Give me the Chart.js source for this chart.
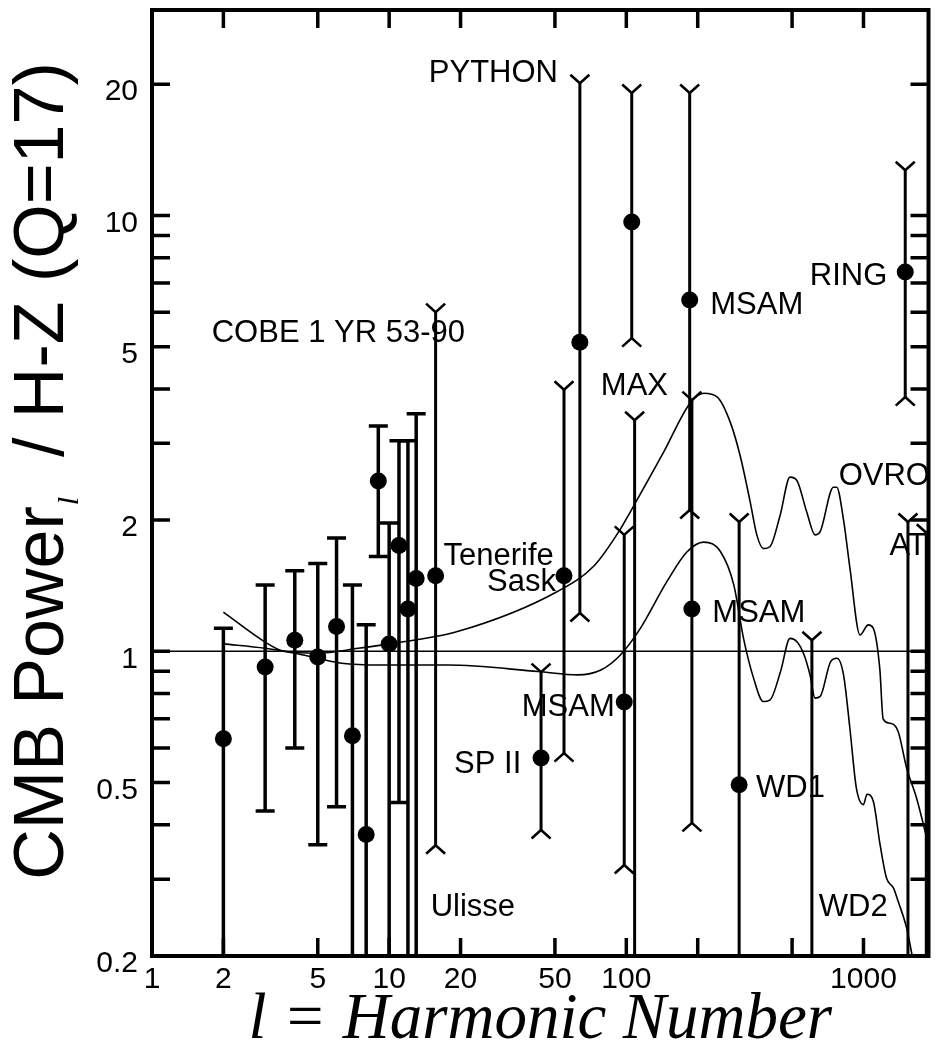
<!DOCTYPE html>
<html><head><meta charset="utf-8">
<script src="https://cdn.jsdelivr.net/npm/chart.js@4.4.1/dist/chart.umd.min.js"></script>
<style>html,body{margin:0;padding:0;background:#fff;}#wrap{width:937px;height:1060px;}</style>
</head><body><div id="wrap"><canvas id="c" width="937" height="1060"></canvas></div>
<script>
// ---------- axis ticks ----------
const xTickLabels = [1, 2, 5, 10, 20, 50, 100, 1000];
const xTickMarks  = [2, 5, 10, 20, 50, 100, 200, 500, 1000];
const yTickLabels = [0.2, 0.5, 1, 2, 5, 10, 20];
const yTickMarks  = [0.3, 0.4, 0.5, 0.6, 0.7, 0.8, 0.9, 1, 2, 3, 4, 5, 6, 7, 8, 9, 10, 20];
const xMin = 1, xMax = 1880, yMin = 0.2, yMax = 29.6;

// ---------- COBE band powers (flat caps); null low = runs below the axis ----------
const cobeL  = [2, 3, 4, 5, 6, 7, 8, 9, 10, 11, 12, 13];
const cobeV  = [0.63, 0.92, 1.06, 0.97, 1.14, 0.64, 0.38, 2.46, 1.04, 1.75, 1.25, 1.47];
const cobeLo = [null, 0.43, 0.60, 0.36, 0.44, null, null, 1.65, null, 0.45, null, null];
const cobeHi = [1.13, 1.42, 1.53, 1.59, 1.82, 1.42, 1.15, 3.29, 1.97, 3.04, 3.04, 3.51];

// ---------- other experiments (Y-shaped caps); null = no point / no lower cap ----------
const expName = ['Tenerife', 'SP II', 'Sask', 'PYTHON', 'MSAM', 'MAX', 'MAX', 'MSAM', 'MSAM', 'WD1', 'WD2', 'RING', 'OVRO', 'AT'];
const expL  = [15.7, 43.7, 54.6, 63.7, 98, 105.4, 108.4, 185, 189, 299, 606, 1500, 1540, 1840];
const expV  = [1.49, 0.569, 1.49, 5.12, 0.765, 9.66, null, 6.40, 1.25, 0.494, null, 7.42, null, null];
const expLo = [0.359, 0.389, 0.584, 1.224, 0.3235, 5.23, null, 2.11, 0.404, null, null, 3.83, null, null];
const expHi = [6.0, 0.896, 3.98, 20.1, 1.85, 19.1, 3.39, 19.1, 3.77, 1.98, 1.06, 12.7, 1.98, 1.87];

// ---------- theory curves ----------
const curveAL = [2, 3, 3.6, 5, 7.4, 10, 19.4, 51, 73, 94, 104, 144, 185, 212, 242, 274, 302, 333, 355, 379, 404, 445, 490, 523, 576, 625, 656, 747, 771, 823, 877, 967, 1048, 1099, 1172, 1210, 1291, 1400, 1520, 1675, 1906];
const curveAV = [1.23, 1.05, 1.0, 0.99, 1.016, 1.04, 1.11, 1.37, 1.57, 1.90, 2.09, 2.87, 3.70, 3.91, 3.83, 3.36, 2.81, 2.20, 1.85, 1.72, 1.74, 2.05, 2.51, 2.47, 2.09, 1.85, 1.88, 2.38, 2.38, 2.01, 1.55, 1.09, 1.15, 1.13, 0.91, 0.70, 0.684, 0.655, 0.54, 0.46, 0.348];
const curveBL = [2, 3, 4, 5, 6.3, 9.2, 17.7, 42.5, 62.4, 78.1, 94.4, 114.6, 148, 180, 212, 250, 284, 312, 344, 378, 404, 447, 490, 524, 562, 595, 625, 657, 727, 773, 824, 876, 933, 1000, 1035, 1100, 1174, 1250, 1340, 1400, 1520, 1600];
const curveBV = [1.04, 1.016, 0.99, 0.964, 0.939, 0.93, 0.93, 0.899, 0.883, 0.906, 0.981, 1.129, 1.443, 1.69, 1.78, 1.69, 1.419, 1.071, 0.868, 0.767, 0.774, 0.899, 1.071, 1.052, 0.981, 0.883, 0.781, 0.788, 0.947, 0.964, 0.883, 0.667, 0.486, 0.445, 0.47, 0.453, 0.361, 0.302, 0.286, 0.267, 0.232, 0.202];
const flatL = [xMin, xMax];
const flatV = [1, 1];

// ---------- annotation labels (anchored in data units) ----------
const noteText  = ['PYTHON', 'COBE 1 YR 53-90', 'MSAM', 'RING', 'MAX', 'OVRO', 'AT', 'Tenerife', 'Sask', 'MSAM', 'MSAM', 'SP II', 'WD1', 'Ulisse', 'WD2'];
const noteL     = [51.5, 1.786, 226, 594, 78.1, 786, 1287, 16.96, 50.5, 230.5, 89.4, 36.06, 352.5, 14.96, 648];
const noteV     = [21.2, 5.37, 6.23, 7.26, 4.06, 2.525, 1.744, 1.654, 1.442, 1.224, 0.745, 0.5514, 0.4858, 0.2591, 0.2591];
const noteAlign = ['right', 'left', 'left', 'left', 'left', 'left', 'left', 'left', 'right', 'left', 'right', 'right', 'left', 'left', 'left'];

const SANS = "'Liberation Sans', Arial, Helvetica, sans-serif";
const SERIF = "'Liberation Serif', 'Times New Roman', serif";

function pts(ls, vs) {
  const out = [];
  ls.forEach((l, i) => { if (vs[i] != null) out.push({x: l, y: vs[i]}); });
  return out;
}

const errPlugin = {
  id: 'errbars',
  beforeDatasetsDraw(chart) {
    const {ctx, chartArea: a, scales: {x, y}} = chart;
    ctx.save();
    ctx.beginPath(); ctx.rect(a.left, a.top, a.right - a.left, a.bottom - a.top); ctx.clip();
    ctx.strokeStyle = '#000'; ctx.lineCap = 'butt'; ctx.lineJoin = 'miter';
    const below = y.getPixelForValue(y.min) + 6;
    ctx.lineWidth = 3.5;
    cobeL.forEach((l, i) => {
      const px = x.getPixelForValue(l);
      const top = y.getPixelForValue(cobeHi[i]);
      const bot = cobeLo[i] == null ? below : y.getPixelForValue(cobeLo[i]);
      ctx.beginPath(); ctx.moveTo(px, top); ctx.lineTo(px, bot); ctx.stroke();
      ctx.beginPath(); ctx.moveTo(px - 9.5, top); ctx.lineTo(px + 9.5, top); ctx.stroke();
      if (cobeLo[i] != null) { ctx.beginPath(); ctx.moveTo(px - 9.5, bot); ctx.lineTo(px + 9.5, bot); ctx.stroke(); }
    });
    ctx.lineWidth = 3;
    expL.forEach((l, i) => {
      const px = x.getPixelForValue(l);
      const top = y.getPixelForValue(expHi[i]);
      const bot = expLo[i] == null ? below : y.getPixelForValue(expLo[i]);
      ctx.beginPath(); ctx.moveTo(px, top); ctx.lineTo(px, bot); ctx.stroke();
      ctx.lineWidth = 2.6;
      ctx.beginPath(); ctx.moveTo(px - 9.5, top - 8.5); ctx.lineTo(px, top); ctx.lineTo(px + 9.5, top - 8.5); ctx.stroke();
      if (expLo[i] != null) { ctx.beginPath(); ctx.moveTo(px - 9.5, bot + 8.5); ctx.lineTo(px, bot); ctx.lineTo(px + 9.5, bot + 8.5); ctx.stroke(); }
      ctx.lineWidth = 3;
    });
    ctx.restore();
  }
};

const notePlugin = {
  id: 'notes',
  afterDatasetsDraw(chart) {
    const {ctx, chartArea: a, scales: {x, y}} = chart;
    ctx.save();
    ctx.beginPath(); ctx.rect(a.left, a.top, a.right - a.left, a.bottom - a.top); ctx.clip();
    ctx.fillStyle = '#000';
    ctx.font = '31px ' + SANS;
    ctx.textBaseline = 'middle';
    noteText.forEach((t, i) => {
      ctx.textAlign = noteAlign[i];
      ctx.fillText(t, x.getPixelForValue(noteL[i]), y.getPixelForValue(noteV[i]));
    });
    ctx.restore();
  }
};

const framePlugin = {
  id: 'frame',
  afterDatasetsDraw(chart) {
    const {ctx, chartArea: a, scales: {x, y}} = chart;
    ctx.save();
    ctx.strokeStyle = '#000';
    ctx.lineWidth = 3.5;
    const TL = 18;
    xTickMarks.forEach(v => {
      const px = x.getPixelForValue(v);
      ctx.beginPath();
      ctx.moveTo(px, a.bottom); ctx.lineTo(px, a.bottom - TL);
      ctx.moveTo(px, a.top); ctx.lineTo(px, a.top + TL);
      ctx.stroke();
    });
    yTickMarks.forEach(v => {
      const py = y.getPixelForValue(v);
      ctx.beginPath();
      ctx.moveTo(a.left, py); ctx.lineTo(a.left + TL, py);
      ctx.moveTo(a.right, py); ctx.lineTo(a.right - TL, py);
      ctx.stroke();
    });
    ctx.lineWidth = 4;
    ctx.strokeRect(a.left, a.top, a.right - a.left, a.bottom - a.top);
    ctx.restore();
  }
};

const yTitlePlugin = {
  id: 'ytitle',
  afterDraw(chart) {
    const ctx = chart.ctx;
    ctx.save();
    ctx.translate(63, 471);
    ctx.rotate(-Math.PI / 2);
    ctx.fillStyle = '#000';
    ctx.textBaseline = 'alphabetic';
    ctx.textAlign = 'left';
    const p1 = 'CMB Power', p2 = 'l', p3 = '  / H-Z (Q=17)';
    const mainFont = '70px ' + SANS, subFont = 'italic 30px ' + SERIF;
    ctx.font = mainFont; const w1 = ctx.measureText(p1).width; const w3 = ctx.measureText(p3).width;
    ctx.font = subFont; const w2 = ctx.measureText(p2).width;
    let cx = -(w1 + w2 + 2 + w3) / 2;
    ctx.font = mainFont; ctx.fillText(p1, cx, 0); cx += w1 + 1;
    ctx.font = subFont; ctx.fillText(p2, cx, 15); cx += w2 + 1;
    ctx.font = mainFont; ctx.fillText(p3, cx, 0);
    ctx.restore();
  }
};

const lineStyle = {showLine: true, pointRadius: 0, borderColor: '#000', borderWidth: 1.6, fill: false};
const pointStyle = {showLine: false, pointRadius: 8.5, pointBackgroundColor: '#000', pointBorderColor: '#000', pointBorderWidth: 0, backgroundColor: '#000', borderColor: '#000'};

new Chart(document.getElementById('c'), {
  type: 'scatter',
  data: {
    datasets: [
      Object.assign({label: 'unit', data: pts(flatL, flatV)}, lineStyle),
      Object.assign({label: 'model A', data: pts(curveAL, curveAV), cubicInterpolationMode: 'monotone'}, lineStyle),
      Object.assign({label: 'model B', data: pts(curveBL, curveBV), cubicInterpolationMode: 'monotone'}, lineStyle),
      Object.assign({label: 'COBE', data: pts(cobeL, cobeV)}, pointStyle),
      Object.assign({label: 'experiments', data: pts(expL, expV)}, pointStyle)
    ]
  },
  options: {
    responsive: false, animation: false, devicePixelRatio: 1,
    layout: {padding: {top: 10, right: 5, left: 0, bottom: 0}},
    plugins: {legend: {display: false}, tooltip: {enabled: false}},
    scales: {
      x: {
        type: 'logarithmic', min: xMin, max: xMax, position: 'bottom',
        grid: {display: false, drawTicks: false}, border: {display: false},
        afterBuildTicks: s => { s.ticks = xTickLabels.map(v => ({value: v})); },
        afterFit: s => { s.height = 104; s.paddingLeft = 0; s.paddingRight = 0; },
        ticks: {font: {family: SANS, size: 30}, color: '#000', padding: 6, maxRotation: 0, minRotation: 0, autoSkip: false, callback: v => String(v)},
        title: {display: true, text: 'l = Harmonic Number', color: '#000', font: {family: SERIF, style: 'italic', size: 65}, padding: {top: 0, bottom: 0}}
      },
      y: {
        type: 'logarithmic', min: yMin, max: yMax, position: 'left',
        grid: {display: false, drawTicks: false}, border: {display: false},
        afterBuildTicks: s => { s.ticks = yTickLabels.map(v => ({value: v})); },
        afterFit: s => { s.width = 152; s.paddingTop = 0; s.paddingBottom = 0; },
        ticks: {font: {family: SANS, size: 30}, color: '#000', padding: 14, labelOffset: 8, autoSkip: false, callback: v => String(v)}
      }
    }
  },
  plugins: [errPlugin, notePlugin, framePlugin, yTitlePlugin]
});
</script>
</body></html>
